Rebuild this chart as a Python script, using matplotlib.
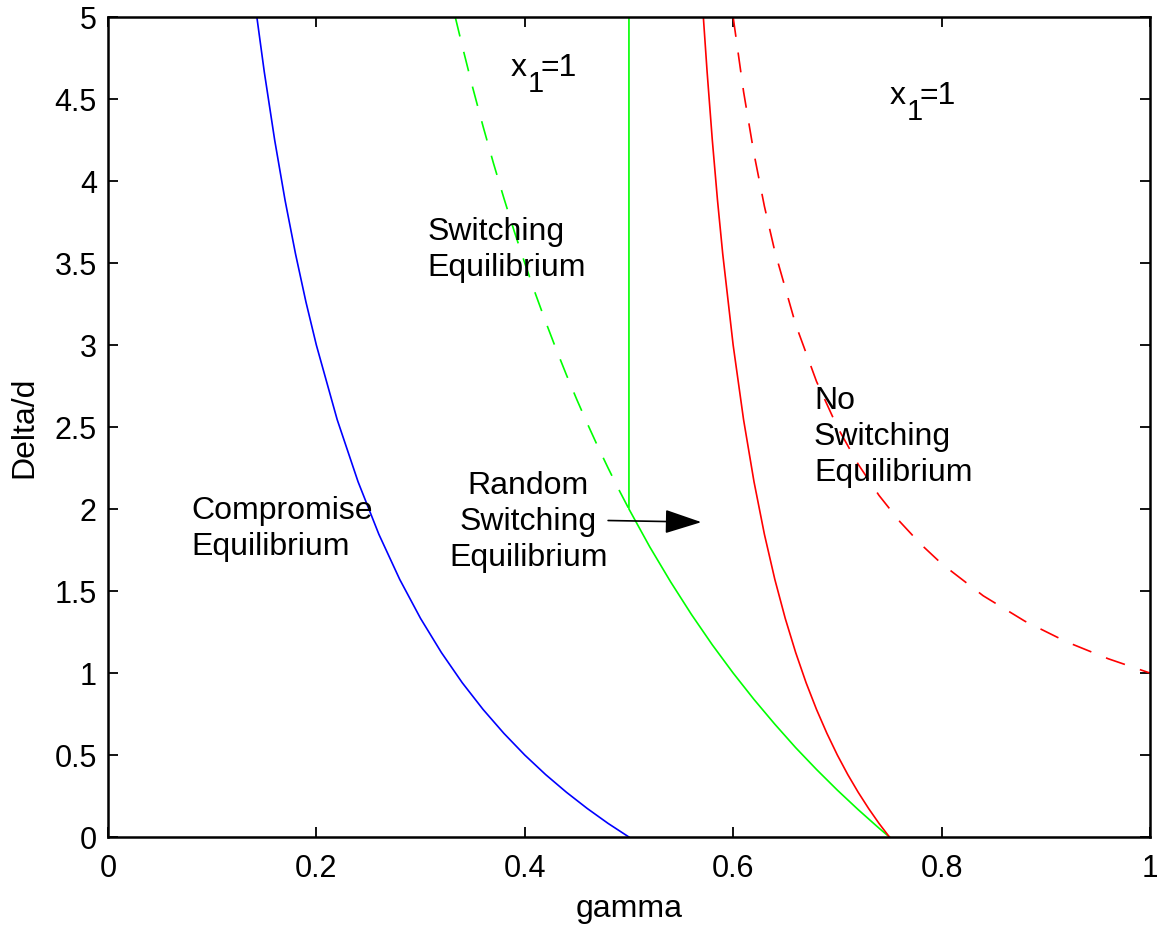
import matplotlib
matplotlib.use("Agg")
import matplotlib.pyplot as plt

plt.rcParams['font.family'] = ['Liberation Sans', 'DejaVu Sans']

# values
blue_gamma = [0.1429, 0.15, 0.16, 0.17, 0.18, 0.19, 0.20, 0.22, 0.24, 0.26, 0.28,
              0.30, 0.32, 0.34, 0.36, 0.38, 0.40, 0.42, 0.44, 0.46, 0.48, 0.50]
blue_delta = [5.0, 4.667, 4.25, 3.882, 3.556, 3.263, 3.0, 2.545, 2.167, 1.846, 1.571,
              1.333, 1.125, 0.941, 0.778, 0.632, 0.5, 0.381, 0.273, 0.174, 0.083, 0.0]

green_dash_gamma = [0.3333, 0.34, 0.35, 0.36, 0.37, 0.38, 0.39, 0.40, 0.41, 0.42,
                    0.43, 0.44, 0.45, 0.46, 0.47, 0.48, 0.49, 0.50]
green_dash_delta = [5.0, 4.824, 4.571, 4.333, 4.108, 3.895, 3.692, 3.5, 3.317, 3.143,
                    2.977, 2.818, 2.667, 2.522, 2.383, 2.25, 2.122, 2.0]

green_gamma = [0.50, 0.50, 0.52, 0.54, 0.56, 0.58, 0.60, 0.62, 0.64, 0.66,
               0.68, 0.70, 0.72, 0.74, 0.75]
green_delta = [5.0, 2.0, 1.769, 1.556, 1.357, 1.172, 1.0, 0.839, 0.688, 0.545,
               0.412, 0.286, 0.167, 0.054, 0.0]

red_gamma = [0.5714, 0.575, 0.58, 0.585, 0.59, 0.60, 0.61, 0.62, 0.63, 0.64, 0.65,
             0.66, 0.67, 0.68, 0.69, 0.70, 0.71, 0.72, 0.73, 0.74, 0.75]
red_delta = [5.0, 4.667, 4.25, 3.882, 3.556, 3.0, 2.545, 2.167, 1.846, 1.571, 1.333,
             1.125, 0.941, 0.778, 0.632, 0.5, 0.381, 0.273, 0.174, 0.083, 0.0]

red_dash_gamma = [0.60, 0.61, 0.62, 0.63, 0.64, 0.66, 0.68, 0.70, 0.72, 0.74, 0.76,
                  0.78, 0.80, 0.84, 0.88, 0.92, 0.96, 1.00]
red_dash_delta = [5.0, 4.545, 4.167, 3.846, 3.571, 3.125, 2.778, 2.5, 2.273, 2.083, 1.923,
                  1.786, 1.667, 1.471, 1.316, 1.190, 1.087, 1.0]

xticks = [0, 0.2, 0.4, 0.6, 0.8, 1]
xticklabels = ['0', '0.2', '0.4', '0.6', '0.8', '1']
yticks = [0, 0.5, 1, 1.5, 2, 2.5, 3, 3.5, 4, 4.5, 5]
yticklabels = ['0', '0.5', '1', '1.5', '2', '2.5', '3', '3.5', '4', '4.5', '5']

TICK_FS = 22
FS = 23
LS = 1.25
lw = 1.2
dash = (12, 9.5)

fig = plt.figure(figsize=(11.57, 9.25), dpi=100)
ax = fig.add_axes([0.0933, 0.0951, 0.9006, 0.8865])

ax.plot(blue_gamma, blue_delta, color='#0000ff', lw=lw)
ax.plot(green_dash_gamma, green_dash_delta, color='#00ff00', lw=lw, dashes=dash)
ax.plot(green_gamma, green_delta, color='#00ff00', lw=lw)
ax.plot(red_gamma, red_delta, color='#ff0000', lw=lw)
ax.plot(red_dash_gamma, red_dash_delta, color='#ff0000', lw=lw, dashes=dash)

ax.set_xlim(0, 1)
ax.set_ylim(0, 5)
ax.set_xticks(xticks)
ax.set_xticklabels(xticklabels)
ax.set_yticks(yticks)
ax.set_yticklabels(yticklabels)
ax.tick_params(direction='in', length=7.5, width=1.3, top=True, right=True,
               labelsize=TICK_FS)
ax.tick_params(axis='x', pad=12)
ax.tick_params(axis='y', pad=8)
for s in ax.spines.values():
    s.set_linewidth(1.8)

ax.set_xlabel('gamma', fontsize=FS)
ax.set_ylabel('Delta/d', fontsize=FS)
ax.xaxis.set_label_coords(0.5, -0.0695)
ax.yaxis.set_label_coords(-0.066, 0.5)

# x_1=1 labels, subscript drawn as its own piece like the original
for gx, gy in [(0.3868, 4.640), (0.7505, 4.470)]:
    ax.text(gx, gy, 'x', fontsize=FS, va='baseline')
    ax.annotate('1', xy=(gx, gy), xytext=(11.8, -11.5), textcoords='offset points',
                fontsize=21, va='baseline')
    ax.annotate('=1', xy=(gx, gy), xytext=(21.2, 0), textcoords='offset points',
                fontsize=FS, va='baseline')

ax.text(0.307, 3.58, 'Switching\nEquilibrium', fontsize=FS, va='center',
        linespacing=LS)
ax.text(0.080, 1.88, 'Compromise\nEquilibrium', fontsize=FS, va='center',
        linespacing=LS)
ax.text(0.6775, 2.44, 'No\nSwitching\nEquilibrium', fontsize=FS, va='center',
        linespacing=LS)
ax.text(0.4035, 1.92, 'Random\nSwitching\nEquilibrium', fontsize=FS, va='center',
        ha='center', multialignment='center', linespacing=LS)
ax.annotate('', xy=(0.5695, 1.92), xytext=(0.480, 1.93),
            arrowprops=dict(arrowstyle='-|>,head_length=2.3,head_width=0.75',
                            mutation_scale=10, color='black', lw=1.2,
                            shrinkA=0, shrinkB=0))

plt.savefig('out.png', dpi=100)
